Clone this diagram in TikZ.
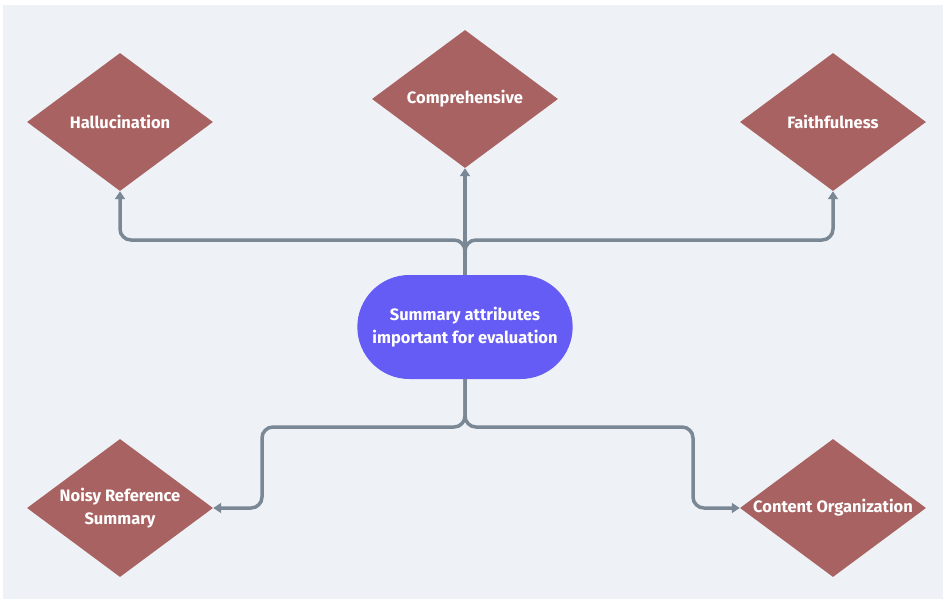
\documentclass[tikz,border=0pt]{standalone}
\usepackage{fontspec}
\setmainfont{Fira Sans}
\usetikzlibrary{shapes.geometric,shapes.misc,arrows.meta}
\definecolor{bgpanel}{HTML}{EEF2F6}
\definecolor{dia}{HTML}{A96262}
\definecolor{hub}{HTML}{655BF5}
\definecolor{link}{HTML}{7A8896}
\tikzset{
  attr/.style={diamond, fill=dia, minimum width=186pt, minimum height=138pt, inner sep=0pt, aspect=1.35, text=white, font=\fontsize{16.5}{23}\selectfont\bfseries, align=center},
  hubnode/.style={rounded rectangle, fill=hub, minimum width=222pt, minimum height=104pt, text=white, font=\fontsize{16.5}{23}\selectfont\bfseries, align=center},
  conn/.style={draw=link, line width=3.5pt, rounded corners=11pt, -{Triangle[length=8pt,width=10pt]}}
}
\begin{document}
\begin{tikzpicture}[x=1pt,y=-1pt]
\useasboundingbox (0,0) rectangle (943,599);
\fill[white] (0,0) rectangle (943,599);
\fill[bgpanel] (3,5) rectangle (943,599);
\node[hubnode] (hub) at (465,327) {Summary attributes\\important for evaluation};
\node[attr] (hal) at (120,122) {Hallucination};
\node[attr] (comp) at (465,99) {Comprehensive};
\node[attr] (faith) at (833,122) {Faithfulness};
\node[attr] (noisy) at (120,508) {Noisy Reference\\Summary};
\node[attr] (org) at (833,508) {Content Organization};
\coordinate (up) at (465,240);
\coordinate (dn) at (465,427);
\draw[conn] (hub.north) -- (up) -| (hal.south);
\draw[conn] (hub.north) -- (comp.south);
\draw[conn] (hub.north) -- (up) -| (faith.south);
\draw[conn] (hub.south) -- (dn) -| (262,470) |- (noisy.east);
\draw[conn] (hub.south) -- (dn) -| (693,470) |- (org.west);
\end{tikzpicture}
\end{document}
